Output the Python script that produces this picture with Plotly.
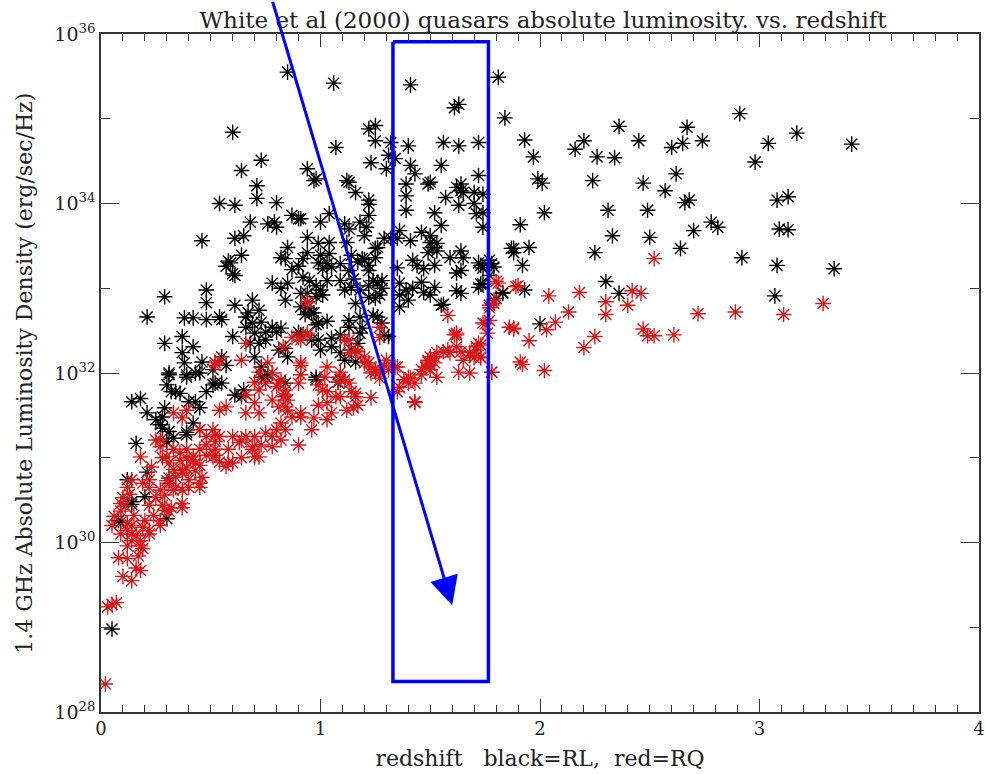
import plotly.graph_objects as go

# Radio-loud (RL) quasars: (redshift, log10 L_1.4GHz [erg/s/Hz])
rl_points = [
    (0.85,35.55),(1.06,35.42),(1.41,35.40),(1.61,35.13),(1.63,35.17),(1.81,35.49),(1.84,35.01),
    (0.60,34.84),(1.07,34.66),(1.22,34.88),(1.25,34.92),(1.25,34.74),(1.23,34.48),(1.30,34.41),
    (1.31,34.57),(1.32,34.72),(1.34,34.53),(1.40,34.68),(1.56,34.72),(1.63,34.68),(1.72,34.72),
    (1.93,34.75),(1.97,34.55),(1.99,34.29),(2.01,34.24),(2.02,33.89),(1.91,33.75),
    (1.41,34.45),(1.43,34.35),(1.50,34.25),(1.55,34.45),(1.62,34.19),(1.64,34.23),(1.70,34.13),(1.72,34.33),
    (0.73,34.51),(0.64,34.39),(0.94,34.41),(0.98,34.29),(0.71,34.21),(0.71,34.06),(0.80,34.01),
    (0.54,34.00),(0.61,33.98),
    (1.12,34.27),(1.13,34.25),(1.16,34.13),(1.22,34.04),(1.22,33.99),(1.39,34.23),(1.39,34.09),
    (1.49,34.23),(1.39,33.92),(1.52,33.89),(1.57,34.07),(1.64,34.15),(1.65,34.13),(1.63,33.98),
    (1.70,34.00),(1.71,33.88),(1.74,34.11),(1.74,33.89),(1.74,33.72),
    (2.16,34.64),(2.20,34.74),(2.26,34.55),(2.34,34.54),(2.36,34.91),(2.45,34.74),(2.24,34.27),
    (2.31,33.92),(2.33,33.62),(2.25,33.42),(2.47,34.24),(2.49,33.92),(2.50,33.60),(2.57,34.15),
    (2.62,34.35),(2.60,34.66),(2.65,34.71),(2.67,34.90),(2.74,34.74),(2.66,34.01),(2.68,34.04),
    (2.70,33.68),(2.78,33.78),(2.81,33.72),(2.64,33.47),(2.91,35.06),(2.92,33.36),(2.98,34.49),
    (3.04,34.71),(3.17,34.83),(3.42,34.70),(3.08,34.04),(3.13,34.08),(3.09,33.70),(3.13,33.69),
    (3.08,33.27),(3.34,33.23),(3.07,32.91),
    (1.87,33.47),(1.88,33.47),(1.95,33.48),(1.88,33.42),(1.92,33.27),(1.78,33.29),(1.73,33.27),
    (1.74,33.05),(1.77,33.15),(1.83,32.94),(1.80,32.88),(1.93,32.98),(2.30,33.08),(2.36,32.94),
    (2.00,32.58),
    (1.36,33.68),(1.35,33.59),(1.41,33.56),(1.46,33.66),(1.50,33.62),(1.50,33.54),(1.51,33.48),
    (1.53,33.53),(1.55,33.74),(1.53,33.44),(1.49,33.42),(1.59,33.36),(1.64,33.44),(1.65,33.36),
    (1.64,33.21),(1.42,33.33),(1.44,33.27),(1.47,33.23),(1.52,33.27),(1.35,33.24),(1.36,33.06),
    (1.39,32.98),(1.42,33.00),(1.46,33.07),(1.47,32.95),(1.50,32.92),(1.52,33.01),(1.36,32.92),
    (1.40,32.86),(1.36,32.78),(1.62,32.97),(1.64,32.94),(1.55,32.80),(1.72,33.30),(1.77,33.33),
    (1.79,33.25),(1.72,33.01),(1.83,32.95),(1.56,32.81),(1.62,33.18),(1.74,33.24),(1.73,33.05),
    (0.97,34.27),(0.91,33.82),(1.00,33.78),(1.04,33.88),(1.11,33.76),(1.13,33.70),(1.18,33.78),
    (1.21,33.72),(1.22,33.86),(0.94,33.60),(0.99,33.53),(1.04,33.54),(1.12,33.54),(1.20,33.62),
    (1.29,33.59),(1.32,33.59),(1.25,33.47),(1.26,33.48),(0.92,33.35),(0.94,33.42),(1.00,33.39),
    (1.03,33.29),(1.04,33.41),(1.01,33.23),(0.92,33.13),(0.95,33.09),(0.98,33.03),(1.00,32.98),
    (1.03,33.09),(1.01,32.92),(0.98,32.90),(0.94,32.94),(0.91,32.94),(0.91,32.78),(0.93,32.69),
    (0.97,32.71),(0.99,32.59),(0.94,32.77),
    (1.09,33.29),(1.13,33.21),(1.15,33.11),(1.17,33.31),(1.19,33.35),(1.22,33.21),(1.25,33.36),
    (1.22,33.27),(1.09,33.09),(1.11,32.98),(1.14,33.01),(1.18,32.98),(1.22,33.03),(1.24,33.09),
    (1.26,33.07),(1.28,33.09),(1.28,33.00),(1.27,32.92),(1.25,32.88),(1.22,32.89),(1.16,32.82),
    (1.13,32.62),(1.18,32.66),(1.09,32.45),(1.05,32.41),(1.05,32.31),(1.00,32.27),(1.09,32.24),
    (1.14,32.27),(1.17,32.35),(1.13,32.54),(1.28,32.59),(1.31,32.43),(1.26,32.66),(1.24,32.68),
    (1.03,32.61),(1.19,32.53),(1.16,32.13),(0.98,31.92),(1.09,31.92),(1.08,31.89),(1.11,32.15),
    (1.18,32.47),(0.99,32.39),(0.99,33.30),(1.05,33.25),(1.14,33.39),(1.20,33.34),(1.29,32.45),
    (0.68,33.78),(0.76,33.76),(0.79,33.78),(0.80,33.72),(0.87,33.86),(0.90,33.82),(0.46,33.56),
    (0.61,33.59),(0.65,33.62),(0.85,33.48),(0.84,33.35),(0.59,33.30),(0.57,33.26),(0.61,33.15),
    (0.64,33.39),(0.87,33.22),(0.90,33.26),(0.78,33.06),(0.82,33.00),(0.84,32.86),(0.29,32.90),
    (0.48,32.98),(0.48,32.83),(0.61,32.80),(0.69,32.86),(0.72,32.74),(0.67,32.71),(0.69,32.59),
    (0.66,32.54),(0.21,32.66),(0.38,32.65),(0.42,32.65),(0.48,32.63),(0.54,32.66),(0.55,32.63),
    (0.78,32.54),(0.82,32.53),(0.90,32.48),(0.96,32.71),
    (0.29,32.35),(0.37,32.43),(0.42,32.31),(0.60,32.43),(0.70,32.47),(0.72,32.35),(0.70,32.19),
    (0.73,32.07),(0.73,31.95),(0.68,32.35),(0.75,32.39),(0.85,32.19),(0.84,32.29),(0.37,32.24),
    (0.38,32.12),(0.39,31.98),(0.31,32.00),(0.43,32.00),(0.46,32.13),(0.55,32.19),(0.57,32.09),
    (0.91,32.45),(0.96,32.39),(0.98,32.57),(0.60,33.17),(0.58,33.32),(0.66,32.66),(0.73,32.60),
    (0.75,32.48),(0.80,32.48),(0.81,32.27),(0.82,33.36),(0.85,33.06),
    (0.39,31.95),(0.31,31.98),(0.30,31.86),(0.32,31.78),(0.34,31.78),(0.45,32.00),(0.48,31.78),
    (0.51,31.86),(0.55,31.88),(0.43,31.66),(0.45,31.59),(0.40,31.66),(0.61,31.74),(0.14,31.66),
    (0.18,31.70),(0.21,31.53),(0.28,31.48),(0.29,31.59),(0.27,31.39),(0.28,31.35),(0.31,31.31),
    (0.30,31.19),(0.33,31.23),(0.39,31.27),(0.39,31.30),(0.16,31.17),(0.21,30.83),(0.12,30.74),
    (0.14,30.48),(0.09,30.24),(0.20,30.54),(0.31,30.76),(0.64,31.72),(0.76,31.98),(0.84,31.88),
    (0.98,31.95),(0.36,31.76),(0.52,31.88),(0.51,32.04),(0.25,31.45),(0.42,31.41),(0.65,31.80),
    (0.75,31.95),(0.05,28.98),(0.08,30.26),(0.14,30.45),(0.30,30.28),
]

# Radio-quiet (RQ) quasars: (redshift, log10 L_1.4GHz [erg/s/Hz])
rq_points = [
    (0.02,28.33),(0.03,29.24),(0.07,29.29),(0.05,29.27),(0.10,29.60),(0.14,29.55),(0.08,29.82),
    (0.12,29.81),(0.16,29.70),(0.18,29.67),(0.09,30.10),
    (0.12,30.14),(0.14,30.20),(0.16,30.08),(0.18,29.96),(0.20,30.26),(0.22,30.14),(0.24,30.32),
    (0.27,30.20),(0.28,30.44),(0.14,30.02),(0.19,29.93),(0.17,29.84),(0.12,29.96),(0.22,30.44),
    (0.15,30.32),(0.29,30.38),(0.32,30.41),(0.37,30.41),
    (0.22,30.65),(0.25,30.53),(0.30,30.73),(0.34,30.65),(0.37,30.82),(0.40,30.65),(0.45,30.65),
    (0.37,30.46),(0.31,30.37),(0.27,30.26),(0.19,30.18),(0.14,30.10),(0.12,30.22),(0.22,30.10),
    (0.18,30.02),(0.09,30.37),(0.13,30.57),(0.11,30.43),(0.06,30.31),(0.05,30.20),
    (0.28,31.00),(0.31,30.94),(0.36,30.97),(0.39,31.00),(0.42,30.97),(0.45,30.91),(0.43,30.85),
    (0.37,30.85),(0.34,30.77),(0.40,30.74),(0.39,30.88),(0.33,30.62),(0.29,30.56),
    (0.33,31.53),(0.37,31.47),(0.45,31.33),(0.52,31.27),(0.52,31.19),(0.48,31.15),(0.27,31.21),
    (0.54,31.56),(0.57,31.60),(0.66,31.53),(0.70,31.65),(0.66,31.74),(0.72,31.53),(0.78,31.68),
    (0.81,31.88),(0.84,31.74),(0.85,31.56),(0.91,31.53),(0.90,31.88),(0.96,31.33),(0.84,31.33),
    (0.82,31.21),(0.78,31.25),(0.60,31.25),(0.64,31.21),(0.69,31.13),(0.73,31.15),(0.78,31.13),
    (0.70,31.01),(0.64,31.00),(0.58,30.94),(0.54,30.95),(0.57,30.90),(0.90,31.15),(0.48,31.03),
    (0.52,31.03),
    (0.94,32.83),(0.90,32.42),(0.94,32.45),(0.66,32.35),(0.64,32.15),(0.83,32.31),(0.52,32.12),
    (0.76,32.12),(0.78,32.00),(0.72,32.01),(0.91,32.09),(0.91,31.98),
    (1.62,32.45),(1.72,32.35),(1.71,32.27),(1.68,32.24),(1.74,32.59),(1.88,32.53),(1.56,32.25),
    (1.53,32.24),(1.50,32.19),(1.49,32.13),(1.48,32.07),(1.46,32.04),(1.50,32.04),(1.52,32.12),
    (1.59,32.24),(1.64,32.25),(1.65,32.15),(1.70,32.18),(1.73,32.18),(1.63,32.01),(1.68,32.00),
    (1.78,32.01),(1.53,31.95),(1.46,31.98),(1.41,31.94),(1.38,31.92),(1.36,31.83),(1.35,31.78),
    (1.40,31.88),(1.43,31.66),
    (0.94,32.47),(0.91,32.39),(1.13,32.39),(1.17,32.25),(1.20,32.19),(1.22,32.12),(1.25,32.04),
    (1.23,32.00),(1.27,32.01),(1.27,31.94),(1.31,32.04),(1.34,32.07),(1.30,32.15),(1.29,32.09),
    (1.03,32.07),(1.09,32.01),(1.08,31.89),(1.11,31.92),(0.99,31.86),(1.01,31.80),(1.03,31.78),
    (1.09,31.72),(1.14,31.78),(1.16,31.72),(1.17,31.62),(1.15,31.59),(1.23,31.71),(1.12,31.56),
    (1.05,31.53),(1.03,31.45),(0.99,31.62),(0.97,31.47),(0.91,31.48),(1.27,32.42),(1.27,32.54),
    (0.91,32.12),
    (0.94,32.84),(1.80,33.08),(1.89,33.02),(1.79,32.82),(1.77,32.77),(1.86,32.54),(1.61,32.45),
    (1.58,32.68),
    (2.52,33.35),(1.81,33.06),(1.90,33.03),(2.04,32.91),(2.18,32.95),(2.30,32.84),(2.30,32.69),
    (2.42,32.97),(2.46,32.94),(2.40,32.80),(2.13,32.72),(2.07,32.60),(2.03,32.51),(1.88,32.52),
    (1.95,32.38),(2.20,32.30),(2.25,32.43),(2.47,32.52),(2.49,32.44),(2.52,32.44),(2.61,32.45),
    (2.72,32.70),(2.89,32.72),(3.11,32.69),(3.29,32.82),(1.75,32.58),(1.73,32.33),(1.73,32.19),
    (1.78,32.01),(1.91,32.13),(1.92,32.10),(2.02,32.03),(1.77,32.80),(1.79,32.86),
    (0.87,32.42),(0.52,32.09),(0.54,32.15),(0.70,31.89),(0.75,31.88),(0.72,31.80),(0.80,31.84),
    (0.82,31.92),(0.84,31.80),(0.85,31.68),(0.81,31.60),(0.83,31.72),
    (1.03,31.65),(1.07,31.72),(1.11,32.39),(1.16,32.27),(1.13,32.24),(1.23,32.07),(1.25,32.01),
    (1.20,32.12),(1.35,32.07),(1.40,31.95),(1.43,31.88),(1.43,31.65),
    (1.49,32.15),(1.52,32.19),(1.50,32.09),(1.58,32.27),(1.62,32.31),(1.68,32.21),(1.71,32.31),
    (1.62,32.47),(1.76,32.47),(1.77,32.62),
    (1.02,31.95),(1.09,31.95),(1.13,31.88),(1.16,31.76),
    (0.45,31.33),(0.48,31.25),(0.51,31.33),(0.54,31.25),(0.52,31.10),(0.58,31.10),(0.63,31.18),
    (0.66,31.25),(0.70,31.25),(0.75,31.29),(0.80,31.33),(0.82,31.41),(0.84,31.60),(0.87,31.48),
    (0.69,31.10),(0.72,31.01),(0.60,30.94),(0.51,31.01),(0.45,31.10),(0.42,31.01),(0.39,31.10),
    (0.36,31.06),(0.33,31.10),(0.30,31.01),(0.27,31.13),(0.25,31.21),(0.39,31.56),
    (0.18,31.01),(0.23,30.89),(0.33,30.86),(0.43,30.94),(0.46,30.77),(0.45,30.70),(0.37,30.62),
    (0.31,30.70),(0.27,30.62),(0.22,30.74),(0.19,30.70),(0.14,30.74),(0.12,30.65),(0.10,30.53),
    (0.09,30.46),
]

# Axis ticks (decades of the luminosity axis)
y_major = [28, 30, 32, 34, 36]
y_minor = [29, 31, 33, 35]
x_major = [0, 1, 2, 3, 4]

# Highlighted redshift window (z range, log L range) and pointer tip
box_z = (1.33, 1.765)
box_logL = (28.36, 35.91)
arrow_tip = (1.60, 29.26)

FONT = "DejaVu Serif"
INK = "#222222"
AXIS = "#333333"
BLUE = "#0000ff"


def split(points):
    zs = [p[0] for p in points]
    ls = [10.0 ** p[1] for p in points]
    return zs, ls


fig = go.Figure()
for pts, col in ((rl_points, "#000000"), (rq_points, "#d3191c")):
    zs, ls = split(pts)
    fig.add_trace(go.Scatter(
        x=zs, y=ls, mode="markers",
        marker=dict(symbol="asterisk-open", size=13,
                    line=dict(color=col, width=1.4), color=col),
        showlegend=False, hoverinfo="skip", cliponaxis=True,
    ))

# Outline of the highlighted redshift window
bx = [box_z[0], box_z[1], box_z[1], box_z[0], box_z[0]]
by = [10.0 ** box_logL[1], 10.0 ** box_logL[1], 10.0 ** box_logL[0],
      10.0 ** box_logL[0], 10.0 ** box_logL[1]]
fig.add_trace(go.Scatter(
    x=bx, y=by, mode="lines", line=dict(color=BLUE, width=3.5),
    showlegend=False, hoverinfo="skip",
))

fig.add_annotation(x=arrow_tip[0], y=arrow_tip[1], xref="x", yref="y",
                   ax=-180, ay=-605, text="", showarrow=True,
                   arrowhead=2, arrowsize=1.9, arrowwidth=3, arrowcolor=BLUE)

# Vertical axis label at the far left of the page
fig.add_annotation(text="1.4 GHz Absolute Luminosity Density (erg/sec/Hz)",
                   xref="paper", yref="paper", x=-0.088, y=0.5,
                   xanchor="center", yanchor="middle", textangle=-90,
                   showarrow=False, font=dict(size=22, family=FONT, color=INK))

fig.update_layout(
    width=986, height=774,
    margin=dict(l=101, r=1, t=34, b=62),
    paper_bgcolor="white", plot_bgcolor="white",
    font=dict(family=FONT, color=INK, size=18),
    title=dict(text="White et al (2000) quasars absolute luminosity. vs. redshift",
               x=543 / 986, xanchor="center", y=1 - 20 / 774, yanchor="middle",
               yref="container", font=dict(size=23, family=FONT, color=INK)),
)

fig.update_xaxes(
    range=[0, 4], showgrid=False, zeroline=False,
    showline=True, linecolor=AXIS, linewidth=1.5, mirror="ticks",
    ticks="inside", ticklen=13, tickwidth=1.3, tickcolor=AXIS,
    tickvals=x_major, ticktext=[str(v) for v in x_major],
    ticklabeloverflow="allow",
    minor=dict(dtick=0.1, ticklen=7, tickwidth=1.2, tickcolor=AXIS, ticks="inside"),
    tickfont=dict(size=18, family=FONT, color=INK),
    title=dict(text="redshift\u00a0\u00a0\u00a0black=RL,\u00a0\u00a0red=RQ",
               font=dict(size=22, family=FONT, color=INK), standoff=12),
)

fig.update_yaxes(
    type="log", range=[28, 36], showgrid=False, zeroline=False,
    showline=True, linecolor=AXIS, linewidth=1.5, mirror="ticks",
    ticks="inside", ticklen=18, tickwidth=1.3, tickcolor=AXIS,
    tickvals=[10.0 ** e for e in y_major],
    ticktext=["10<sup>%d</sup>" % e for e in y_major],
    ticklabeloverflow="allow",
    minor=dict(tickvals=[10.0 ** e for e in y_minor], ticklen=9, tickwidth=1.2,
               tickcolor=AXIS, ticks="inside"),
    tickfont=dict(size=19, family=FONT, color=INK),
)

fig.write_html("out.html")
